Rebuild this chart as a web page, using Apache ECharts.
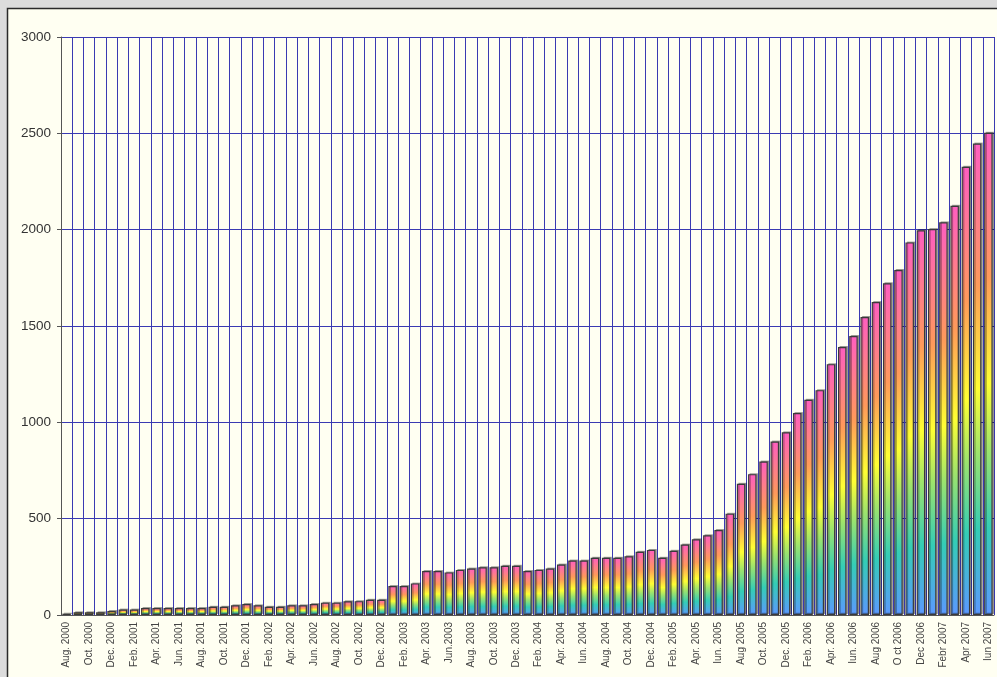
<!DOCTYPE html>
<html>
<head>
<meta charset="utf-8">
<script src="https://cdn.jsdelivr.net/npm/echarts@6/dist/echarts.min.js"></script>
<style>
html,body{margin:0;padding:0;background:#DCDCDC;}
#chart{width:997px;height:677px;}
</style>
</head>
<body>
<div id="chart"></div>
<script>
// Month categories (labels shown every other month)
const months = [
"Aug. 2000","Sep. 2000","Oct. 2000","Nov. 2000","Dec. 2000",
"Jan. 2001","Feb. 2001","Mar. 2001","Apr. 2001","May 2001","Jun. 2001","Jul. 2001","Aug. 2001","Sep. 2001","Oct. 2001","Nov. 2001","Dec. 2001",
"Jan. 2002","Feb. 2002","Mar. 2002","Apr. 2002","May 2002","Jun. 2002","Jul. 2002","Aug. 2002","Sep. 2002","Oct. 2002","Nov. 2002","Dec. 2002",
"Jan. 2003","Feb. 2003","Mar. 2003","Apr. 2003","May 2003","Jun.2003","Jul. 2003","Aug. 2003","Sep. 2003","Oct. 2003","Nov. 2003","Dec. 2003",
"Jan. 2004","Feb. 2004","Mar. 2004","Apr. 2004","May 2004","Iun. 2004","Jul. 2004","Aug. 2004","Sep. 2004","Oct. 2004","Nov. 2004","Dec. 2004",
"Jan. 2005","Feb. 2005","Mar. 2005","Apr. 2005","May 2005","Iun. 2005","Jul. 2005","Aug 2005","Sep. 2005","Oct. 2005","Nov. 2005","Dec. 2005",
"Jan. 2006","Feb. 2006","Mar. 2006","Apr. 2006","May 2006","Iun. 2006","Jul. 2006","Aug 2006","Sep 2006","O ct 2006","Nov 2006","Dec 2006",
"Jan 2007","Febr 2007","Mar 2007","Apr 2007","May 2007","Iun 2007"
];
const values = [
7,14,14,14,21,
28,28,36,36,36,36,36,36,43,43,50,57,
50,43,43,50,50,57,64,64,71,72,79,79,
150,150,164,228,228,221,234,241,248,248,255,255,
228,234,241,262,283,283,297,297,297,305,328,338,
297,333,366,393,414,441,526,681,731,797,900,948,
1048,1117,1167,1302,1391,1448,1547,1624,1722,1791,1934,1997,
2003,2038,2124,2326,2447,2503
];

const chart = echarts.init(document.getElementById('chart'), null, {renderer:'canvas'});
const grad = new echarts.graphic.LinearGradient(0,0,0,1,[
  {offset:0, color:'#FF5EC0'},
  {offset:0.3, color:'#FF9A5A'},
  {offset:0.52, color:'#FFFF33'},
  {offset:0.66, color:'#9BE36E'},
  {offset:0.82, color:'#34CDB6'},
  {offset:1, color:'#5C98FF'}
]);
chart.setOption({
  backgroundColor:'#DCDCDC',
  animation:false,
  graphic:[{
    type:'rect', z:-10, silent:true,
    shape:{x:7.5,y:8.5,width:1000,height:700},
    style:{fill:'#FFFFF2', stroke:'#2a2a2a', lineWidth:1.5}
  }],
  grid:{left:61,right:3,top:37,bottom:62,containLabel:false},
  xAxis:{
    type:'category',
    data:months,
    boundaryGap:true,
    axisLine:{show:true,lineStyle:{color:'#555',width:1}},
    axisTick:{show:false},
    splitLine:{show:true,interval:0,lineStyle:{color:'#3a3ab2',width:1}},
    axisLabel:{interval:1,rotate:90,margin:7,fontFamily:'Liberation Sans, Arial',fontSize:10,color:'#444'}
  },
  yAxis:{
    type:'value',min:0,max:3000,interval:500,
    axisLine:{show:true,lineStyle:{color:'#555'}},
    axisTick:{show:true,length:4,lineStyle:{color:'#555'}},
    splitLine:{show:true,lineStyle:{color:'#3a3ab2',width:1}},
    axisLabel:{fontFamily:'Liberation Sans, Arial',fontSize:13.5,color:'#333',margin:10,
      formatter:function(v){return String(v);}}
  },
  series:[{
    type:'bar',
    data:values,
    barWidth:8.5,
    itemStyle:{color:grad,borderColor:'#3a3a3a',borderWidth:1.2,
      shadowColor:'rgba(0,0,0,0.3)',shadowOffsetX:1.5,shadowOffsetY:-1,shadowBlur:0}
  }]
});
</script>
</body>
</html>
